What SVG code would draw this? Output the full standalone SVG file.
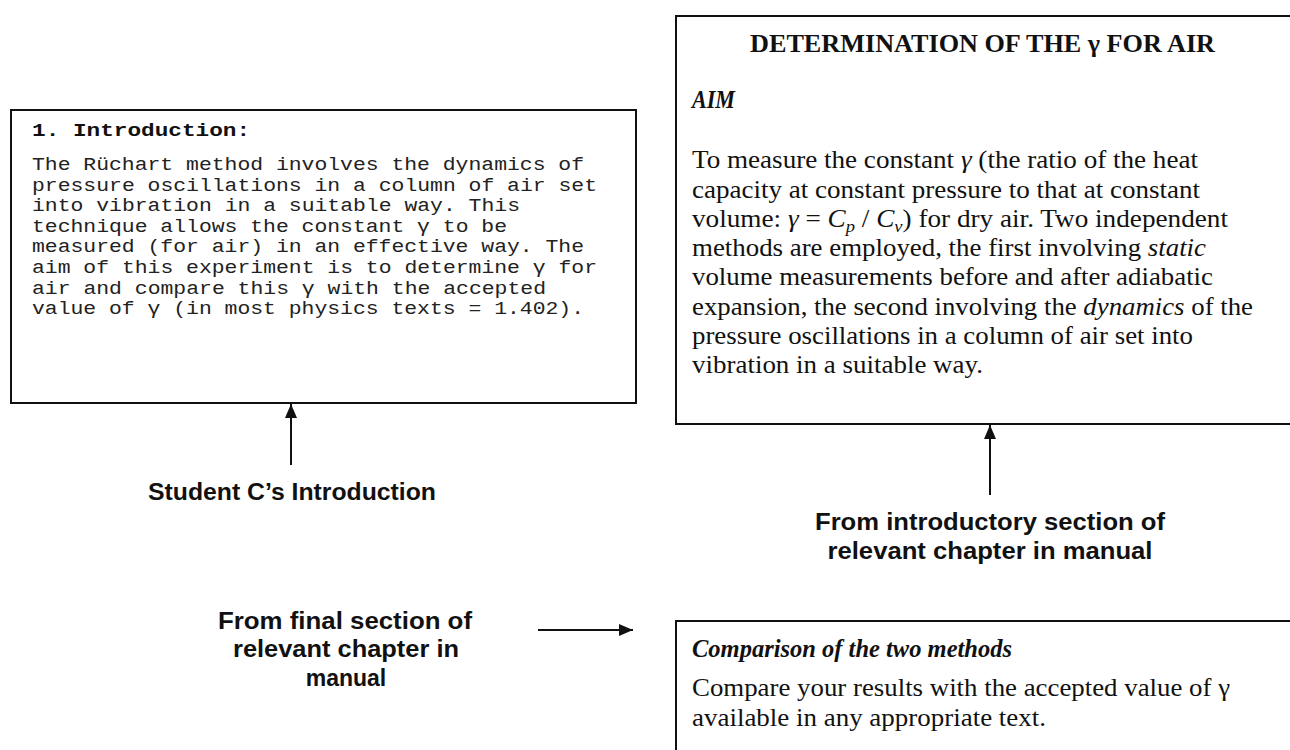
<svg xmlns="http://www.w3.org/2000/svg" width="1290" height="750" viewBox="0 0 1290 750">
<style>
.box{fill:#fff;stroke:#111;stroke-width:2}
.mono{font-family:"Liberation Mono","Courier New",monospace;font-size:17.5px;fill:#222}
.monob{font-family:"Liberation Mono","Courier New",monospace;font-size:18px;font-weight:bold;fill:#111}
.serif{font-family:"Liberation Serif","Times New Roman",serif;font-size:25px;fill:#111}
.lbl{font-family:"Liberation Sans",Arial,sans-serif;font-size:23px;font-weight:bold;fill:#111;text-anchor:middle}
.conn{stroke:#111;stroke-width:2;fill:none}
</style>
<defs>
<marker id="ahb" viewBox="0 0 14 12" refX="14" refY="6" markerWidth="14" markerHeight="12" markerUnits="userSpaceOnUse" orient="auto"><path d="M0,0 L14,6 L0,12 z" fill="#111"/></marker>
</defs>
<rect width="1290" height="750" fill="#fff"/>

<g id="intro">
<rect class="box" x="11" y="110" width="625" height="293"/>
<text class="monob" x="32" y="136" textLength="218" lengthAdjust="spacingAndGlyphs">1. Introduction:</text>
<text class="mono" x="32" y="170" textLength="552" lengthAdjust="spacingAndGlyphs">The Rüchart method involves the dynamics of</text>
<text class="mono" x="32" y="190.6" textLength="565" lengthAdjust="spacingAndGlyphs">pressure oscillations in a column of air set</text>
<text class="mono" x="32" y="211.2" textLength="488" lengthAdjust="spacingAndGlyphs">into vibration in a suitable way. This</text>
<text class="mono" x="32" y="231.8" textLength="475" lengthAdjust="spacingAndGlyphs">technique allows the constant γ to be</text>
<text class="mono" x="32" y="252.4" textLength="552" lengthAdjust="spacingAndGlyphs">measured (for air) in an effective way. The</text>
<text class="mono" x="32" y="273" textLength="565" lengthAdjust="spacingAndGlyphs">aim of this experiment is to determine γ for</text>
<text class="mono" x="32" y="293.6" textLength="514" lengthAdjust="spacingAndGlyphs">air and compare this γ with the accepted</text>
<text class="mono" x="32" y="314.2" textLength="552" lengthAdjust="spacingAndGlyphs">value of γ (in most physics texts = 1.402).</text>
</g>

<g id="aim">
<path class="box" d="M1292,16 H676 V424 H1292"/>
<text class="serif" x="750" y="52" font-weight="bold" font-size="23.5" textLength="465" lengthAdjust="spacingAndGlyphs">DETERMINATION OF THE γ FOR AIR</text>
<text class="serif" x="692" y="108" font-weight="bold" font-style="italic" textLength="43" lengthAdjust="spacingAndGlyphs">AIM</text>
<text class="serif" x="692" y="168" textLength="506" lengthAdjust="spacingAndGlyphs">To measure the constant <tspan font-style="italic">γ</tspan> (the ratio of the heat</text>
<text class="serif" x="692" y="198" textLength="508" lengthAdjust="spacingAndGlyphs">capacity at constant pressure to that at constant</text>
<text class="serif" x="692" y="227" textLength="536" lengthAdjust="spacingAndGlyphs">volume: <tspan font-style="italic">γ</tspan> = <tspan font-style="italic">C</tspan><tspan font-style="italic" font-size="17" dy="5">p</tspan><tspan dy="-5"> / </tspan><tspan font-style="italic">C</tspan><tspan font-style="italic" font-size="17" dy="5">v</tspan><tspan dy="-5">) for dry air. Two independent</tspan></text>
<text class="serif" x="692" y="256" textLength="514" lengthAdjust="spacingAndGlyphs">methods are employed, the first involving <tspan font-style="italic">static</tspan></text>
<text class="serif" x="692" y="285" textLength="521" lengthAdjust="spacingAndGlyphs">volume measurements before and after adiabatic</text>
<text class="serif" x="692" y="315" textLength="561" lengthAdjust="spacingAndGlyphs">expansion, the second involving the <tspan font-style="italic">dynamics</tspan> of the</text>
<text class="serif" x="692" y="344" textLength="501" lengthAdjust="spacingAndGlyphs">pressure oscillations in a column of air set into</text>
<text class="serif" x="692" y="373" textLength="291" lengthAdjust="spacingAndGlyphs">vibration in a suitable way.</text>
</g>

<g id="compare">
<path class="box" d="M1292,621 H676 V752"/>
<text class="serif" x="692" y="657" font-weight="bold" font-style="italic" textLength="320" lengthAdjust="spacingAndGlyphs">Comparison of the two methods</text>
<text class="serif" x="692" y="696" textLength="538" lengthAdjust="spacingAndGlyphs">Compare your results with the accepted value of γ</text>
<text class="serif" x="692" y="726" textLength="354" lengthAdjust="spacingAndGlyphs">available in any appropriate text.</text>
</g>

<g id="label-student">
<text class="lbl" x="292" y="500" textLength="288" lengthAdjust="spacingAndGlyphs">Student C’s Introduction</text>
</g>

<g id="label-intro-section">
<text class="lbl" x="990" y="530" textLength="350" lengthAdjust="spacingAndGlyphs">From introductory section of</text>
<text class="lbl" x="990" y="559" textLength="325" lengthAdjust="spacingAndGlyphs">relevant chapter in manual</text>
</g>

<g id="label-final-section">
<text class="lbl" x="345" y="629" textLength="254" lengthAdjust="spacingAndGlyphs">From final section of</text>
<text class="lbl" x="346" y="657" textLength="226" lengthAdjust="spacingAndGlyphs">relevant chapter in</text>
<text class="lbl" x="346" y="686">manual</text>
</g>

<g id="connectors">
<line class="conn" x1="291" y1="465" x2="291" y2="404" marker-end="url(#ahb)"/>
<line class="conn" x1="990" y1="495" x2="990" y2="425" marker-end="url(#ahb)"/>
<line class="conn" x1="538" y1="630" x2="633" y2="630" marker-end="url(#ahb)"/>
</g>
</svg>
